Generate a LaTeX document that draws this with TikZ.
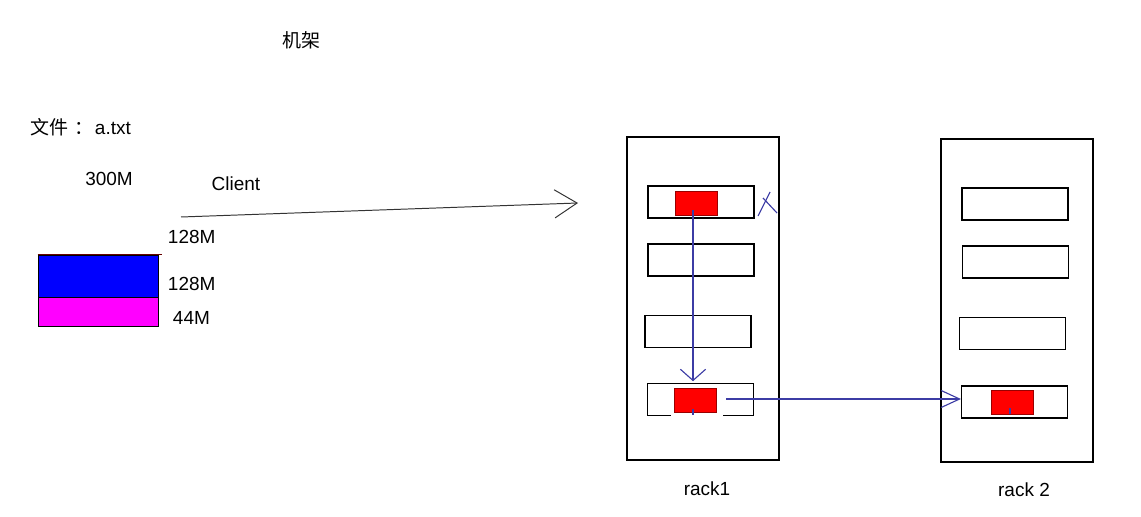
\documentclass[tikz,border=0pt]{standalone}
\usepackage{fontspec}
\setmainfont{Liberation Sans}
\newfontfamily\cjk{Noto Sans CJK SC}
\usetikzlibrary{arrows.meta,calc}
\definecolor{penblue}{RGB}{60,60,165}
\definecolor{pinkblock}{RGB}{255,0,255}

\begin{document}
\begin{tikzpicture}[x=0.025cm,y=-0.025cm,font=\fontsize{13.5}{16}\selectfont]
	\tikzstyle{rack}=[draw, line width=0.8pt, minimum width=3.8cm, minimum height=8.07cm, inner sep=0pt]
	\tikzstyle{slot}=[draw, line width=0.8pt, minimum width=2.65cm, minimum height=0.8cm, inner sep=0pt]
	\tikzstyle{block}=[draw=red!60!black, fill=red, minimum width=1.05cm, minimum height=0.6cm, inner sep=0pt]
	\tikzstyle{pen}=[penblue, line width=0.8pt]
	\newcommand\XRackA{703}
	\newcommand\XRackB{1017}

	\useasboundingbox (0,0) rectangle (1141,517);

	% Titles
	\node at (301,40) (title) {\cjk 机架};
	\node [anchor=west] at (26,127) (file) {{\cjk 文件\hspace{4pt}：}\hspace{1pt}a.txt};
	\node at (109,179) (size) {300M};

	% File blocks
	\node [draw, line width=0.6pt, fill=blue, minimum width=3cm, minimum height=1.05cm, inner sep=0pt] at (98,276) (blk1) {};
	\node [draw, line width=0.6pt, fill=pinkblock, minimum width=3cm, minimum height=0.725cm, inner sep=0pt, anchor=north] at (blk1.south) (blk2) {};
	\draw [line width=0.8pt, red!40!black] (blk1.north west) -- ++(124,0);
	\node [anchor=west] at (163,237) (lab1) {128M};
	\node [anchor=west] at (163,284) (lab2) {128M};
	\node [anchor=west] at (168,318) (lab3) {44M};

	% Client
	\node at (236,184) (client) {Client};
	\coordinate (cstart) at (181,217);
	\coordinate (cend) at (578,203);
	\draw [line width=0.7pt, black!80, -{Straight Barb[length=16pt,width=20pt]}] (cstart) -- (cend);

	% Rack 1
	\node [rack] at (\XRackA,298.5) (rack1) {};
	\node [slot] at (701,202) (s11) {};
	\node [slot] at (701,260) (s12) {};
	\node [slot] at (698,331.5) (s13) {};
	\node [minimum width=2.65cm, minimum height=0.8cm, inner sep=0pt] at (700.5,399.5) (s14) {};
	\draw [line width=0.8pt] (s14.south west) -- (s14.north west) -- (s14.north east) -- (s14.south east) -- ++(-31,0);
	\draw [line width=0.8pt] (s14.south west) -- ++(24,0);
	\node [block] at (696,203) (r11) {};
	\node [block] at (695,400) (r14) {};
	\node at (707,489) (name1) {rack1};

	% Rack 2
	\node [rack] at (\XRackB,300.5) (rack2) {};
	\node [slot] at (1015,204) (s21) {};
	\node [slot] at (1015.5,262) (s22) {};
	\node [slot] at (1012.5,333.5) (s23) {};
	\node [slot] at (1014.5,402) (s24) {};
	\node [block] at (1012,402) (r24) {};
	\node at (1024,490) (name2) {rack 2};

	% Copy arrows
	\coordinate (vtop) at ($(r11.south)+(-3,-5)$);
	\coordinate (htop) at ($(r14.east)+(10,-1)$);
	\draw [pen, -{Straight Barb[length=8pt,width=18pt]}] (vtop) -- ($(vtop |- s14.north)+(0,-2)$);
	\draw [pen] ($(r14.south)+(-2,-3)$) -- ++(0,6);
	\draw [pen, -{Straight Barb[length=13pt,width=12pt]}] (htop) -- (htop -| s24.west);
	\draw [pen] ($(r24.south)+(-2,-6)$) -- ++(0,6);

	% Mark
	\draw [pen] (758,216) -- (770,192);
	\draw [pen] (763,198) -- (777,213);
\end{tikzpicture}
\end{document}
